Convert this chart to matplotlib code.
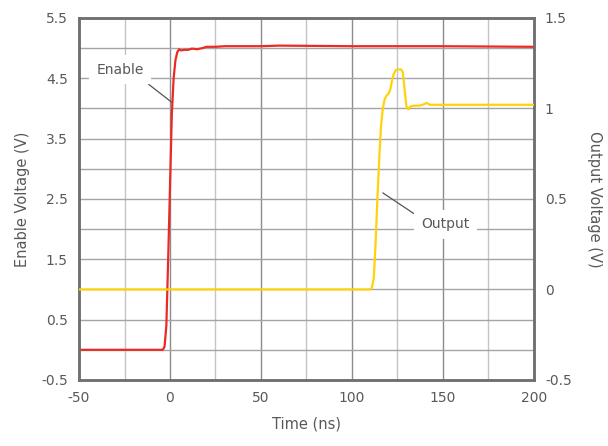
import matplotlib

matplotlib.use('Agg')
import matplotlib.pyplot as plt

# Enable signal (left axis, V)
enable_t = [-50, -10, -4, -3, -2, -1, 0, 1, 2, 3, 4, 5, 6, 8, 10, 12, 15, 18, 20,
            25, 30, 50, 60, 100, 150, 200]
enable_v = [0.0, 0.0, 0.0, 0.05, 0.4, 1.5, 2.7, 3.9, 4.5, 4.8, 4.93, 4.98, 4.96,
            4.97, 4.97, 4.99, 4.98, 5.0, 5.02, 5.02, 5.03, 5.03, 5.04, 5.03, 5.03, 5.02]

# Output signal (right axis, V)
output_t = [-50, 100, 110, 111, 112, 113, 114, 115, 116, 117, 118, 119, 120, 121,
            122, 123, 124, 125, 127, 128, 129, 130, 131, 132, 134, 137, 139, 141,
            143, 146, 150, 200]
output_v = [0.0, 0.0, 0.0, 0.01, 0.06, 0.25, 0.5, 0.72, 0.9, 1.0, 1.05, 1.07, 1.08,
            1.10, 1.15, 1.19, 1.21, 1.215, 1.215, 1.2, 1.1, 1.01, 0.995, 1.01, 1.015,
            1.015, 1.02, 1.03, 1.02, 1.02, 1.02, 1.02]

x_ticks = [-50, 0, 50, 100, 150, 200]
left_ticks = [5.5, 4.5, 3.5, 2.5, 1.5, 0.5, -0.5]
right_ticks = [1.5, 1, 0.5, 0, -0.5]

txt = '#595959'
plt.rcParams['font.family'] = ['DejaVu Sans']

fig = plt.figure(figsize=(6.08, 4.46), dpi=100)
ax = fig.add_axes([0.130, 0.148, 0.748, 0.812])
ax2 = ax.twinx()

ax.set_xlim(-50, 200)
ax.set_ylim(-0.5, 5.5)
ax2.set_ylim(-0.5, 1.5)

# grid
for x in range(-25, 200, 25):
    c = '#8c8c8c' if x % 50 == 0 else '#c4c4c4'
    ax.axvline(x, color=c, lw=1, zorder=0)
for i in range(1, 12):
    ax.axhline(-0.5 + 0.5 * i, color='#a4a4a4', lw=1, zorder=0)

ax.plot(enable_t, enable_v, color='#ec2a24', lw=1.6, zorder=3)
ax2.plot(output_t, output_v, color='#ffd20a', lw=1.6, zorder=3)

ax.set_xticks(x_ticks)
ax.set_xticklabels([str(v) for v in x_ticks])
ax.set_yticks(left_ticks)
ax.set_yticklabels(['5.5', '4.5', '3.5', '2.5', '1.5', '0.5', '-0.5'])
ax2.set_yticks(right_ticks)
ax2.set_yticklabels(['1.5', '1', '0.5', '0', '-0.5'])

for a in (ax, ax2):
    a.tick_params(length=0, labelsize=10, colors=txt, pad=8)
    for s in a.spines.values():
        s.set_color('#707070')
        s.set_linewidth(1.8)

ax.set_xlabel('Time (ns)', fontsize=10.5, color=txt, labelpad=8)
ax.set_ylabel('Enable Voltage (V)', fontsize=10.5, color=txt, labelpad=8)
ax2.set_ylabel('Output Voltage (V)', fontsize=10.5, color=txt, rotation=270,
               labelpad=22)

bbox = dict(boxstyle='square,pad=0.55', fc='white', ec='none')
ax.annotate('Enable', xy=(1.0, 4.1), xytext=(-27.5, 4.64), fontsize=10, color=txt,
            ha='center', va='center', bbox=bbox, zorder=4,
            arrowprops=dict(arrowstyle='-', color='#555555', lw=0.9,
                            shrinkA=0, shrinkB=0, relpos=(0.9, 0.0)))
ax.annotate('Output', xy=(117, 2.6), xytext=(151.5, 2.08), fontsize=10, color=txt,
            ha='center', va='center', bbox=bbox, zorder=4,
            arrowprops=dict(arrowstyle='-', color='#555555', lw=0.9,
                            shrinkA=0, shrinkB=0, relpos=(0.0, 0.9)))

fig.savefig('out.png', dpi=100)
